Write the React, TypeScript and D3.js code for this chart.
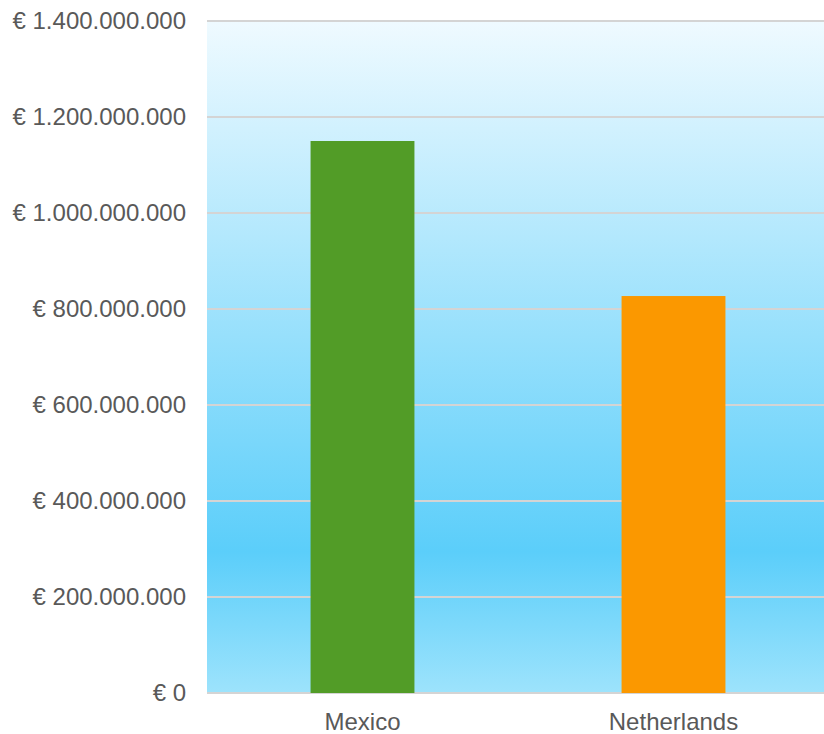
import { useEffect, useRef } from "react";
import * as d3 from "d3";

const categories = ["Mexico", "Netherlands"];
const values = [1150000000, 827000000];
const barColors = ["#529c27", "#fb9800"];
const yTicks = [0, 200000000, 400000000, 600000000, 800000000, 1000000000, 1200000000, 1400000000];

const fmt = (v: number) => "€ " + d3.format(",")(v).replace(/,/g, ".");

export default function App() {
  const svgRef = useRef<SVGSVGElement>(null);

  useEffect(() => {
    if (!svgRef.current) return;
    const svg = d3.select(svgRef.current);
    const width = 824;
    const height = 734;
    // plot area runs a few px past the right edge of the picture
    const margin = { top: 21, right: -5, bottom: 41, left: 207 };

    svg.selectAll("*").remove();
    svg.attr("width", width).attr("height", height);

    const x = d3
      .scaleBand()
      .domain(categories)
      .range([margin.left, width - margin.right])
      .paddingInner(0.666)
      .paddingOuter(0.333);

    const y = d3
      .scaleLinear()
      .domain([0, 1400000000])
      .range([height - margin.bottom, margin.top]);

    // Background gradient
    const defs = svg.append("defs");
    const grad = defs
      .append("linearGradient")
      .attr("id", "bg")
      .attr("x1", 0)
      .attr("y1", 0)
      .attr("x2", 0)
      .attr("y2", 1);
    grad.append("stop").attr("offset", "0%").attr("stop-color", "#effaff");
    grad.append("stop").attr("offset", "79%").attr("stop-color", "#5bcefa");
    grad.append("stop").attr("offset", "100%").attr("stop-color", "#9de3fc");

    svg
      .append("rect")
      .attr("x", margin.left)
      .attr("y", margin.top)
      .attr("width", width - margin.left - margin.right)
      .attr("height", height - margin.top - margin.bottom)
      .attr("fill", "url(#bg)");

    // Grid lines
    svg
      .append("g")
      .selectAll("line")
      .data(yTicks)
      .enter()
      .append("line")
      .attr("x1", margin.left)
      .attr("x2", width - margin.right)
      .attr("y1", (d) => y(d))
      .attr("y2", (d) => y(d))
      .attr("stroke", "#d4d4d4")
      .attr("stroke-width", 2);

    // Bars
    svg
      .selectAll("rect.bar")
      .data(values)
      .enter()
      .append("rect")
      .attr("class", "bar")
      .attr("x", (_, i) => x(categories[i])!)
      .attr("y", (d) => y(d))
      .attr("width", x.bandwidth())
      .attr("height", (d) => y(0) - y(d))
      .attr("fill", (_, i) => barColors[i]);

    // Y axis labels
    svg
      .append("g")
      .selectAll("text")
      .data(yTicks)
      .enter()
      .append("text")
      .attr("x", margin.left - 21)
      .attr("y", (d) => y(d))
      .attr("dy", "0.35em")
      .attr("text-anchor", "end")
      .attr("fill", "#595959")
      .attr("font-family", "Liberation Sans, Arial, sans-serif")
      .attr("font-size", "24px")
      .text((d) => fmt(d));

    // X axis labels
    svg
      .append("g")
      .selectAll("text")
      .data(categories)
      .enter()
      .append("text")
      .attr("x", (d) => x(d)! + x.bandwidth() / 2)
      .attr("y", height - margin.bottom + 29)
      .attr("dy", "0.35em")
      .attr("text-anchor", "middle")
      .attr("fill", "#595959")
      .attr("font-family", "Liberation Sans, Arial, sans-serif")
      .attr("font-size", "24px")
      .text((d) => d);
  }, []);

  return (
    <div style={{ position: "fixed", left: 0, top: 0, background: "#ffffff" }}>
      <svg ref={svgRef} style={{ display: "block" }}></svg>
    </div>
  );
}
